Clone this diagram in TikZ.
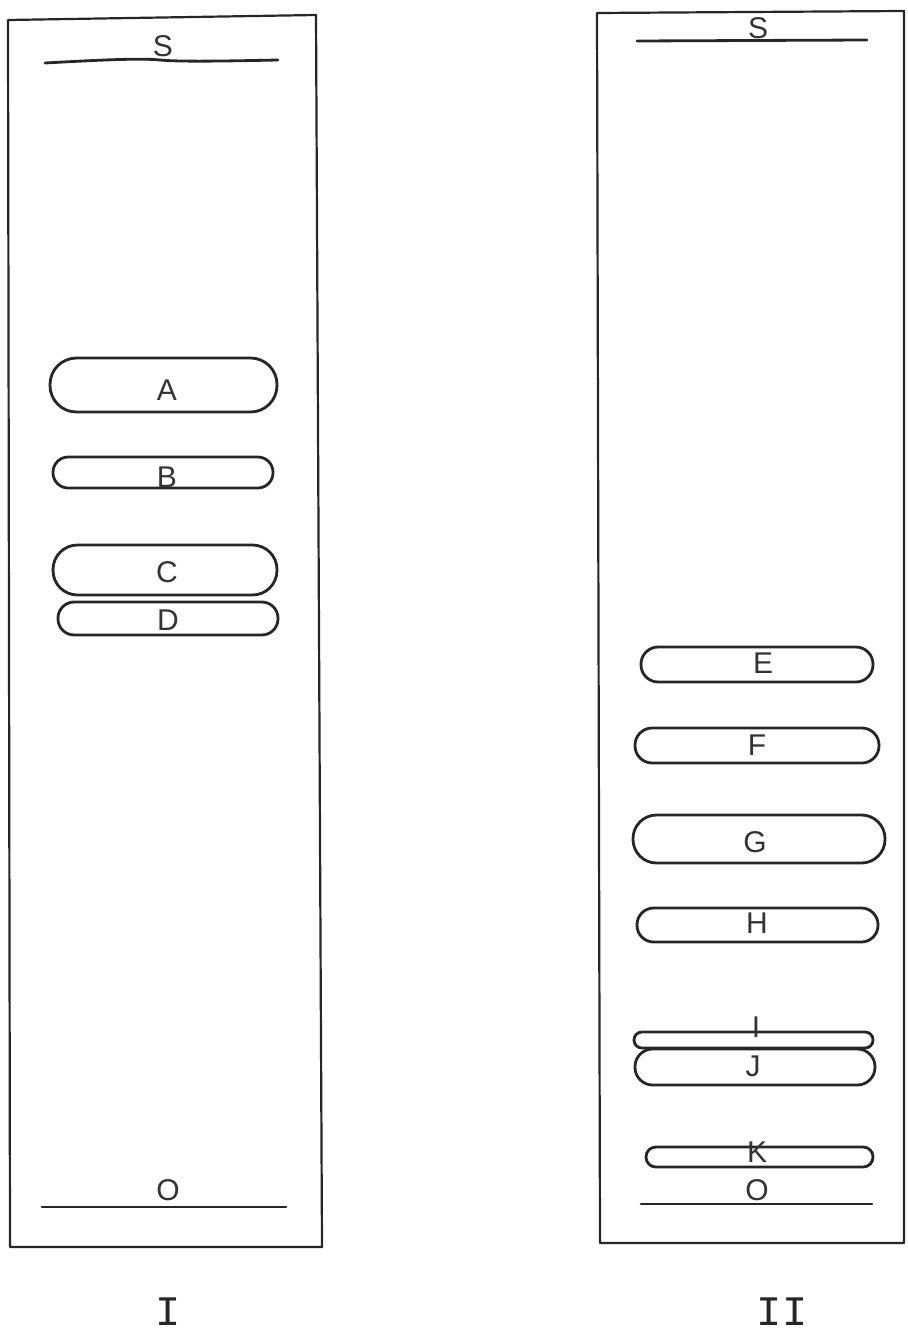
\documentclass[tikz,border=0pt]{standalone}
\usepackage{fontspec}
\setmainfont{Liberation Sans}
\newfontfamily\numfont{Liberation Mono}
\begin{document}
\begin{tikzpicture}[x=0.5pt,y=-0.5pt,
  plate/.style={draw=black!85,line width=1.1pt,line join=round},
  frontline/.style={draw=black!85,line width=1.4pt,line cap=round},
  spotline/.style={draw=black!85,line width=1.4pt},
  lab/.style={inner sep=0pt,text=black!80,font=\fontsize{15}{18}\selectfont},
  roman/.style={inner sep=0pt,text=black!85,font=\numfont\fontsize{21}{24}\selectfont}]
\newcommand\spotdraw[4]{%
  \pgfmathsetmacro\rr{0.245*(#4-(#3))}%
  \draw[spotline,rounded corners=\rr pt] (#1,#3) rectangle (#2,#4);}
\useasboundingbox (0,0) rectangle (907,1337);
% plates
\draw[plate] (8,20) -- (316,15) -- (322,1247) -- (10,1247) -- cycle;
\draw[plate] (597,13) -- (904,11) -- (904,1243) -- (600,1243) -- cycle;
% solvent fronts and origins
\coordinate (s1a) at (45,63); \coordinate (s1b) at (278,60);
\coordinate (o1a) at (42,1207); \coordinate (o1b) at (286,1207);
\coordinate (s2a) at (637,41); \coordinate (s2b) at (867,40);
\coordinate (o2a) at (641,1204); \coordinate (o2b) at (872,1204);
\draw[frontline] (s1a) .. controls (100,60) and (140,58) .. (160,60) .. controls (180,62) and (230,61) .. (s1b);
\draw[frontline] (o1a) -- (o1b);
\draw[frontline] (s2a) -- (s2b);
\draw[frontline] (o2a) -- (o2b);
\node[lab] (S1) at (163,46) {S};
\node[lab] (O1) at (168,1190) {O};
\node[lab] (S2) at (758,28) {S};
\node[lab] (O2) at (757,1190) {O};
% plate I spots
\spotdraw{50}{277}{358}{412}
\spotdraw{53}{273}{457}{488}
\spotdraw{53}{277}{545}{595}
\spotdraw{58}{278}{602}{635}
\node[lab] (A) at (167,390) {A};
\node[lab] (B) at (167,477) {B};
\node[lab] (C) at (167,572) {C};
\node[lab] (D) at (168,620) {D};
% plate II spots
\spotdraw{641}{873}{647}{682}
\spotdraw{635}{879}{728}{763}
\spotdraw{633}{885}{815}{863}
\spotdraw{637}{878}{908}{942}
\spotdraw{634}{873}{1032}{1048}
\spotdraw{635}{875}{1049}{1085}
\spotdraw{646}{873}{1147}{1167}
\node[lab] (E) at (763,663) {E};
\node[lab] (F) at (757,745) {F};
\node[lab] (G) at (755,842) {G};
\node[lab] (H) at (757,923) {H};
\node[lab] (I) at (756,1027) {I};
\node[lab] (J) at (753,1066) {J};
\node[lab] (K) at (757,1152) {K};
% plate numbers
\node[roman] (n1) at (168,1312) {I};
\node[roman] (n2) at (782,1312) {II};
\end{tikzpicture}
\end{document}
